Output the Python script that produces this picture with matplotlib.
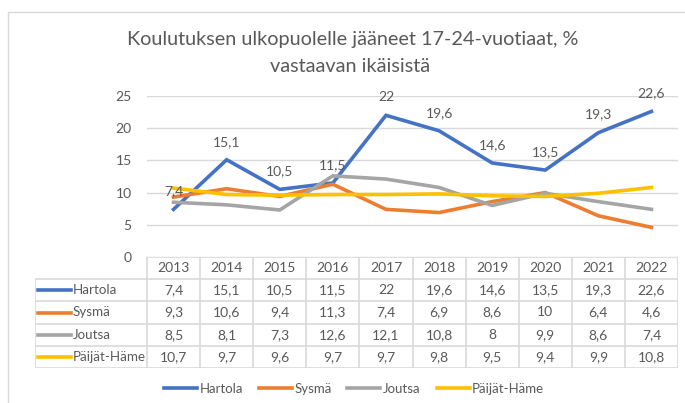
import matplotlib
matplotlib.use('Agg')
import matplotlib.pyplot as plt
from matplotlib.patches import Rectangle
from matplotlib.lines import Line2D

plt.rcParams['font.family'] = ['Lato', 'DejaVu Sans']

# data
years = ['2013', '2014', '2015', '2016', '2017', '2018', '2019', '2020', '2021', '2022']
names = ['Hartola', 'Sysmä', 'Joutsa', 'Päijät-Häme']
hartola = [7.4, 15.1, 10.5, 11.5, 22, 19.6, 14.6, 13.5, 19.3, 22.6]
sysma = [9.3, 10.6, 9.4, 11.3, 7.4, 6.9, 8.6, 10, 6.4, 4.6]
joutsa = [8.5, 8.1, 7.3, 12.6, 12.1, 10.8, 8, 9.9, 8.6, 7.4]
paijat_hame = [10.7, 9.7, 9.6, 9.7, 9.7, 9.8, 9.5, 9.4, 9.9, 10.8]
yticks = [0, 5, 10, 15, 20, 25]

series = [hartola, sysma, joutsa, paijat_hame]
colors = ['#4472C4', '#ED7D31', '#A5A5A5', '#FFC000']
txt = '#595959'
grid = '#D9D9D9'

W, H = 685, 403


def fmt(v):
    return f'{v:g}'.replace('.', ',')


def box(l, t, r, b):
    # pixel box -> figure fraction
    return [l / W, 1 - b / H, (r - l) / W, (b - t) / H]


fig = plt.figure(figsize=(W / 100, H / 100), dpi=100)

# chart frame
fig.add_artist(Rectangle((8 / W, -0.1), 2, 1.1 - 12 / H, transform=fig.transFigure,
                         fill=False, edgecolor=grid, linewidth=1))

fig.text(353 / W, 1 - 40 / H, 'Koulutuksen ulkopuolelle jääneet 17-24-vuotiaat, %',
         ha='center', va='center', fontsize=14.3, color=txt)
fig.text(350 / W, 1 - 67 / H, 'vastaavan ikäisistä',
         ha='center', va='center', fontsize=14.3, color=txt)

# line chart
ax = fig.add_axes(box(147, 96, 678, 257))
xs = [i + 0.5 for i in range(len(years))]
for vals, c in zip(series, colors):
    ax.plot(xs, vals, color=c, linewidth=2.6, solid_joinstyle='miter', zorder=3)
for x, v in zip(xs, hartola):
    ax.annotate(fmt(v), (x, v), xytext=(0, 13), textcoords='offset points',
                ha='center', va='center', fontsize=10, color=txt, zorder=4)

ax.set_xlim(0, len(years))
ax.set_ylim(0, 25)
ax.set_yticks(yticks)
ax.set_yticklabels([str(t) for t in yticks])
ax.set_xticks([])
ax.tick_params(axis='y', length=0, pad=11, labelsize=10, labelcolor=txt)
for s in ax.spines.values():
    s.set_visible(False)
ax.grid(axis='y', color=grid, linewidth=1)
ax.set_axisbelow(True)

# data table
n = len(years)
lab_w = 112 / 53.1
tab = fig.add_axes(box(35, 257, 678, 368))
tab.set_xlim(-lab_w, n)
tab.set_ylim(5, 0)
tab.axis('off')
tab.hlines(0, 0, n, color=grid, linewidth=1.2)
tab.hlines(range(1, 6), -lab_w, n, color=grid, linewidth=1.2)
tab.vlines(-lab_w, 1, 5, color=grid, linewidth=1.2)
tab.vlines(range(0, n + 1), 0, 5, color=grid, linewidth=1.2)
for i, y in enumerate(years):
    tab.text(i + 0.5, 0.5, y, ha='center', va='center', fontsize=10, color=txt)
for r, (name, vals, c) in enumerate(zip(names, series, colors)):
    yy = r + 1.5
    tab.add_line(Line2D([-lab_w + 3 / 53.1, -lab_w + 36 / 53.1], [yy, yy], color=c, linewidth=2.6))
    tab.text(-lab_w + 38 / 53.1, yy, name, ha='left', va='center', fontsize=9.6, color=txt)
    for i, v in enumerate(vals):
        tab.text(i + 0.5, yy, fmt(v), ha='center', va='center', fontsize=10, color=txt)

# legend
handles = [Line2D([], [], color=c, linewidth=2.6) for c in colors]
fig.legend(handles, names, loc='center', bbox_to_anchor=(354 / W, 1 - 389 / H), ncol=4,
           frameon=False, fontsize=9.5, labelcolor=txt, handlelength=2.5,
           handletextpad=0.2, columnspacing=1.2)

fig.savefig('out.png', dpi=100, facecolor='white')
